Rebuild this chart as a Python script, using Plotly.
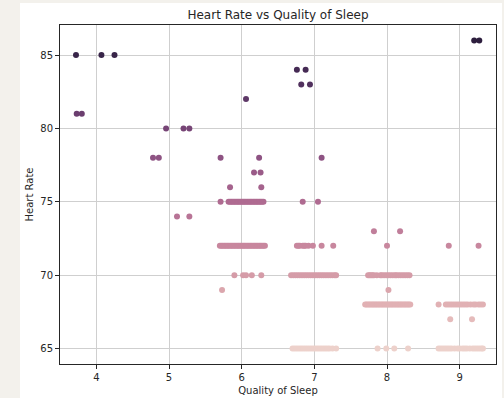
import numpy as np
import plotly.graph_objects as go

# ---- data (x = jittered Quality of Sleep, y = Heart Rate) ----
hr86_x = [9.20, 9.27]
hr85_x = [3.72, 4.07, 4.25]
hr84_x = [6.76, 6.88]
hr83_x = [6.82, 6.94]
hr82_x = [6.06]
hr81_x = [3.73, 3.80]
hr80_x = [4.96, 5.20, 5.28]
hr78_x = [4.78, 4.86, 5.71, 6.24, 7.10]
hr77_x = [6.17, 6.26]
hr76_x = [5.84, 6.27]
hr75_x = [5.71, 5.82, 5.84, 5.86, 5.88, 5.90, 5.92, 5.94, 5.96, 5.98, 6.00, 6.02,
          6.04, 6.06, 6.08, 6.10, 6.12, 6.14, 6.16, 6.18, 6.20, 6.22, 6.24, 6.26,
          6.28, 6.30, 6.84, 7.05]
hr74_x = [5.11, 5.28]
hr73_x = [7.82, 8.18]
hr72_x = [5.70, 5.72, 5.74, 5.76, 5.78, 5.80, 5.82, 5.84, 5.86, 5.88, 5.90, 5.92,
          5.94, 5.96, 5.98, 6.00, 6.02, 6.04, 6.06, 6.08, 6.10, 6.12, 6.14, 6.16,
          6.18, 6.20, 6.22, 6.24, 6.26, 6.28, 6.30, 6.32,
          6.76, 6.78, 6.80, 6.84, 6.86, 6.88, 6.92, 6.98, 7.10, 7.26,
          8.00, 8.85, 9.26]
hr70_x = [5.90, 6.02, 6.06, 6.14, 6.27,
          6.68, 6.71, 6.74, 6.77, 6.80, 6.83, 6.86, 6.89, 6.92, 6.95, 6.98, 7.01,
          7.04, 7.07, 7.10, 7.13, 7.16, 7.19, 7.22, 7.25, 7.28, 7.30,
          7.74, 7.76, 7.78, 7.80, 7.82, 7.86, 7.91, 7.93, 7.96, 7.99, 8.02, 8.05,
          8.08, 8.11, 8.13, 8.16, 8.19, 8.22, 8.25, 8.28, 8.31]
hr69_x = [5.73, 8.02]
hr68_x = [7.70, 7.72, 7.74, 7.76, 7.78, 7.80, 7.82, 7.84, 7.86, 7.88, 7.90, 7.92,
          7.94, 7.96, 7.98, 8.00, 8.02, 8.04, 8.06, 8.08, 8.10, 8.12, 8.14, 8.16,
          8.18, 8.20, 8.22, 8.24, 8.26, 8.28, 8.30, 8.32,
          8.71, 8.81, 8.84, 8.87, 8.90, 8.93, 8.96, 8.99, 9.02, 9.05, 9.08, 9.11,
          9.15, 9.19, 9.22, 9.26, 9.29, 9.32]
hr67_x = [8.87, 9.17]
hr65_x = [6.70, 6.73, 6.76, 6.79, 6.82, 6.85, 6.88, 6.91, 6.94, 6.97, 7.00, 7.03,
          7.06, 7.09, 7.12, 7.15, 7.18, 7.21, 7.25, 7.30,
          7.87, 7.99, 8.10, 8.29,
          8.71, 8.74, 8.77, 8.80, 8.83, 8.86, 8.89, 8.93, 8.97, 9.00, 9.04, 9.07,
          9.10, 9.14, 9.18, 9.21, 9.24, 9.27, 9.30, 9.32]

groups = [(65, hr65_x), (67, hr67_x), (68, hr68_x), (69, hr69_x), (70, hr70_x),
          (72, hr72_x), (73, hr73_x), (74, hr74_x), (75, hr75_x), (76, hr76_x),
          (77, hr77_x), (78, hr78_x), (80, hr80_x), (81, hr81_x), (82, hr82_x),
          (83, hr83_x), (84, hr84_x), (85, hr85_x), (86, hr86_x)]

x_tick_vals = [4, 5, 6, 7, 8, 9]
y_tick_vals = [65, 70, 75, 80, 85]

xs, ys = [], []
for hr, xl in groups:
    xs.extend(xl)
    ys.extend([hr] * len(xl))


# seaborn default cubehelix hue palette (light=.85 -> dark=.15)
def cubehelix(v, start=0.0, rot=0.4, gamma=1.0, hue=0.8):
    xg = v ** gamma
    a = hue * xg * (1 - xg) / 2
    phi = 2 * np.pi * (start / 3 + rot * v)
    r = xg + a * (-0.14861 * np.cos(phi) + 1.78277 * np.sin(phi))
    g = xg + a * (-0.29227 * np.cos(phi) - 0.90649 * np.sin(phi))
    b = xg + a * (1.97294 * np.cos(phi))
    c = [int(round(255 * min(max(t, 0), 1))) for t in (r, g, b)]
    return "rgb(%d,%d,%d)" % tuple(c)


stops = np.linspace(0, 1, 21)
colorscale = [[float(t), cubehelix(0.85 + (0.15 - 0.85) * t)] for t in stops]

fig = go.Figure()
fig.add_trace(go.Scatter(
    x=xs, y=ys, mode="markers",
    marker=dict(size=6, color=ys, colorscale=colorscale, cmin=min(ys), cmax=max(ys),
                showscale=False, line=dict(width=0)),
    showlegend=False, hoverinfo="x+y"))

font_family = "DejaVu Sans"
axis_common = dict(showline=True, mirror=True, linecolor="#262626", linewidth=1,
                   ticks="outside", ticklen=4, tickcolor="#262626", tickwidth=1,
                   showgrid=True, gridcolor="#cfcfcf", gridwidth=1, zeroline=False,
                   automargin=False,
                   tickfont=dict(family=font_family, size=10, color="#262626"))

fig.update_layout(
    width=504, height=398,
    margin=dict(l=60, r=8, t=25, b=34),
    paper_bgcolor="#f3f1ec", plot_bgcolor="white",
    title=dict(text="Heart Rate vs Quality of Sleep", x=278 / 504, xanchor="center",
               y=1 - 15 / 398, yanchor="middle",
               font=dict(family=font_family, size=12, color="#262626")),
    xaxis=dict(range=[3.5, 9.5], tickvals=x_tick_vals,
               title=dict(text="Quality of Sleep", standoff=4,
                          font=dict(family=font_family, size=10, color="#262626")),
               **axis_common),
    yaxis=dict(range=[63.95, 87.05], tickvals=y_tick_vals,
               title=dict(text="Heart Rate", standoff=4,
                          font=dict(family=font_family, size=10, color="#262626")),
               **axis_common),
    shapes=[dict(type="rect", xref="paper", yref="paper",
                 x0=(20 - 60) / 436, x1=(502 - 60) / 436,
                 y0=(364 - 398) / 339 - 0.01, y1=(364 - 3) / 339,
                 fillcolor="white", line=dict(width=0), layer="below")],
)

fig.write_html("out.html")
